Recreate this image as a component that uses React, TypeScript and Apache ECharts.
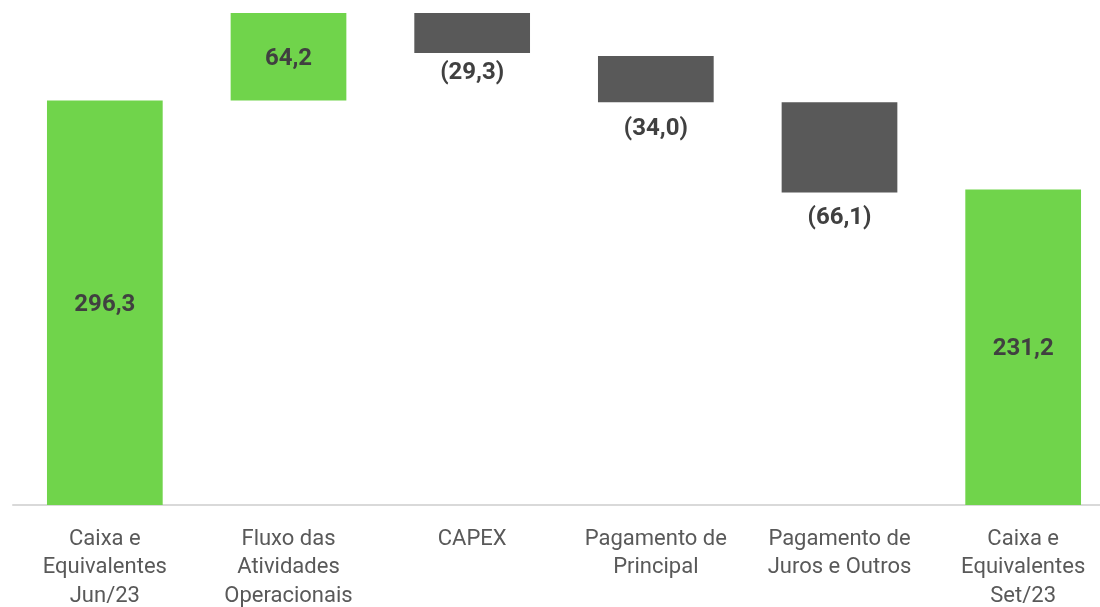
import React, { useEffect, useRef } from "react";
import * as echarts from "echarts";

const categories = [
  "Caixa e\nEquivalentes\nJun/23",
  "Fluxo das\nAtividades\nOperacionais",
  "CAPEX",
  "Pagamento de\nPrincipal",
  "Pagamento de\nJuros e Outros",
  "Caixa e\nEquivalentes\nSet/23",
];
const values = [296.3, 64.2, -29.3, -34.0, -66.1, 231.2];
const bases = [0, 296.3, 331.2, 295.0, 228.9, 0];

const GREEN = "#70D44B";
const GRAY = "#595959";

function fmt(v: number): string {
  const s = Math.abs(v).toFixed(1).replace(".", ",");
  return v < 0 ? `(${s})` : s;
}

export default function App() {
  const ref = useRef<HTMLDivElement>(null);
  useEffect(() => {
    if (!ref.current) return;
    const chart = echarts.init(ref.current, undefined, { renderer: "svg" });
    const labelDist = [0, 0, 6, 13, 11, 0];
    chart.setOption({
      animation: false,
      grid: {
        left: 13,
        top: 0,
        width: 1102,
        height: 505,
        outerBoundsMode: "none",
        containLabel: false,
      },
      xAxis: {
        type: "category",
        data: categories,
        axisLine: { lineStyle: { color: "#D9D9D9", width: 2 } },
        axisTick: { show: false },
        axisLabel: {
          interval: 0,
          color: "#595959",
          fontFamily: "Roboto",
          fontSize: 22,
          lineHeight: 28.5,
          margin: 18,
        },
      },
      yAxis: {
        type: "value",
        min: 0,
        max: 370,
        show: false,
        splitLine: { show: false },
      },
      series: [
        {
          type: "bar",
          stack: "w",
          data: bases,
          itemStyle: { color: "transparent" },
          barCategoryGap: "37%",
          silent: true,
        },
        {
          type: "bar",
          stack: "w",
          barCategoryGap: "37%",
          data: values.map((v, i) => ({
            value: Math.abs(v),
            itemStyle: { color: v < 0 ? GRAY : GREEN },
            label: {
              show: true,
              position: v < 0 ? "bottom" : "inside",
              distance: labelDist[i],
              formatter: () => fmt(v),
              color: "#404040",
              fontFamily: "Roboto",
              fontWeight: "bold",
              fontSize: 24,
            },
          })),
        },
      ],
    });
    return () => chart.dispose();
  }, []);
  return (
    <div
      style={{
        position: "fixed",
        left: 0,
        top: 0,
        width: 1100,
        height: 607,
        overflow: "hidden",
      }}
    >
      <div ref={ref} style={{ width: 1120, height: 607 }} />
    </div>
  );
}
